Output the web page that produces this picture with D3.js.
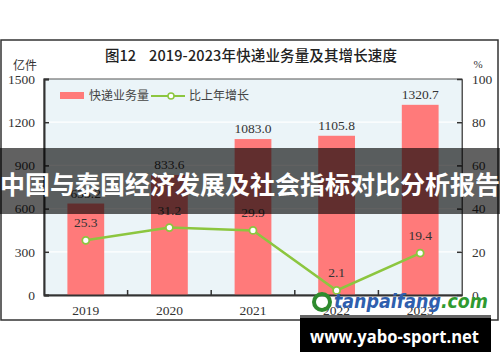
<!DOCTYPE html>
<html>
<head>
<meta charset="utf-8">
<title>快递业务量</title>
<script src="https://d3js.org/d3.v7.min.js"></script>
<style>
  body { margin: 0; background: #fff; }
  svg { display: block; }
</style>
</head>
<body>
<div id="chart"></div>
<script>
var years = ['2019', '2020', '2021', '2022', '2023'];
var volume = [635.2, 833.6, 1083.0, 1105.8, 1320.7];
var growth = [25.3, 31.2, 29.9, 2.1, 19.4];
var leftTicks = [0, 300, 600, 900, 1200, 1500];
var rightTicks = [0, 20, 40, 60, 80, 100];

var w = 500, h = 362;
var m = { left: 44, right: 462, top: 79, bottom: 295 };
var serif = "'Liberation Serif', 'DejaVu Serif', serif";
var cjk = "'Noto Sans CJK SC', sans-serif";
var red = '#ff7a7a', green = '#8cc63f';

var svg = d3.select('#chart').append('svg').attr('width', w).attr('height', h);

// outer frame
svg.append('rect').attr('x', 1).attr('y', 40).attr('width', 497).attr('height', 280)
  .attr('fill', '#fff').attr('stroke', '#333').attr('stroke-width', 1.5);

// title
svg.append('text').attr('x', 105).attr('y', 61)
  .attr('font-family', cjk).attr('font-weight', 500).attr('font-size', 14.5).attr('fill', '#222')
  .text('图12');
svg.append('text').attr('x', 149).attr('y', 61)
  .attr('font-family', cjk).attr('font-weight', 500).attr('font-size', 14.5).attr('fill', '#222')
  .attr('textLength', 248).attr('lengthAdjust', 'spacing')
  .text('2019-2023年快递业务量及其增长速度');

var x = d3.scaleBand().domain(years).range([m.left, m.right]).paddingInner(0.56).paddingOuter(0.28);
var xb = d3.scaleBand().domain(years).range([m.left, m.right]);
var yl = d3.scaleLinear().domain([0, 1500]).range([m.bottom, m.top]);
var yr = d3.scaleLinear().domain([0, 100]).range([m.bottom, m.top]);

// plot background
svg.append('rect').attr('x', m.left).attr('y', m.top)
  .attr('width', m.right - m.left).attr('height', m.bottom - m.top)
  .attr('fill', '#ebf4f8').attr('stroke', '#555').attr('stroke-width', 1);

// gridlines
svg.append('g').selectAll('line').data(leftTicks.slice(1, -1)).enter().append('line')
  .attr('x1', m.left).attr('x2', m.right)
  .attr('y1', function(d) { return yl(d); }).attr('y2', function(d) { return yl(d); })
  .attr('stroke', '#fff').attr('stroke-width', 1.2);

// bars
svg.append('g').selectAll('rect').data(volume).enter().append('rect')
  .attr('x', function(d, i) { return x(years[i]); })
  .attr('y', function(d) { return yl(d); })
  .attr('width', x.bandwidth())
  .attr('height', function(d) { return yl(0) - yl(d); })
  .attr('fill', red);

// bar labels
svg.append('g').selectAll('text').data(volume).enter().append('text')
  .attr('x', function(d, i) { return x(years[i]) + x.bandwidth() / 2; })
  .attr('y', function(d) { return yl(d) - 6; })
  .attr('text-anchor', 'middle').attr('font-family', serif).attr('font-size', 13.5).attr('fill', '#333')
  .text(function(d) { return d3.format('.1f')(d); });

// axes
var leftAxis = d3.axisLeft(yl).tickValues(leftTicks).tickFormat(d3.format('d')).tickSize(-5).tickPadding(9);
var gl = svg.append('g').attr('transform', 'translate(' + m.left + ',0)').call(leftAxis);
var rightAxis = d3.axisRight(yr).tickValues(rightTicks).tickFormat(d3.format('d')).tickSize(-5).tickPadding(10);
var gr = svg.append('g').attr('transform', 'translate(' + m.right + ',0)').call(rightAxis);
var bottomAxis = d3.axisBottom(xb).tickSize(0).tickPadding(10);
var gb = svg.append('g').attr('transform', 'translate(0,' + m.bottom + ')').call(bottomAxis);
[gl, gr, gb].forEach(function(g) {
  g.selectAll('text').attr('font-family', serif).attr('font-size', 13.5).attr('fill', '#333');
  g.selectAll('line').attr('stroke', '#333').attr('stroke-width', 1.5);
});
gl.select('.domain').attr('stroke', '#333').attr('stroke-width', 2);
gr.select('.domain').attr('stroke', '#555');
gb.select('.domain').attr('stroke', '#333').attr('stroke-width', 2);

// inner ticks on x axis at band boundaries
svg.append('g').selectAll('line').data(years.slice(1)).enter().append('line')
  .attr('x1', function(d) { return xb(d); }).attr('x2', function(d) { return xb(d); })
  .attr('y1', m.bottom).attr('y2', m.bottom - 5)
  .attr('stroke', '#333').attr('stroke-width', 1.5);

// axis units
svg.append('text').attr('x', 37).attr('y', 70).attr('text-anchor', 'end')
  .attr('font-family', cjk).attr('font-size', 12).attr('fill', '#333').text('亿件');
svg.append('text').attr('x', 478).attr('y', 68).attr('text-anchor', 'middle')
  .attr('font-family', serif).attr('font-size', 11).attr('fill', '#333').text('%');

// growth line
var line = d3.line()
  .x(function(d, i) { return xb(years[i]) + xb.bandwidth() / 2; })
  .y(function(d) { return yr(d); });
svg.append('path').datum(growth).attr('d', line)
  .attr('fill', 'none').attr('stroke', green).attr('stroke-width', 2.5);
svg.append('g').selectAll('circle').data(growth).enter().append('circle')
  .attr('cx', function(d, i) { return xb(years[i]) + xb.bandwidth() / 2; })
  .attr('cy', function(d) { return yr(d); })
  .attr('r', 3.5).attr('fill', '#fff').attr('stroke', green).attr('stroke-width', 1.8);
svg.append('g').selectAll('text').data(growth).enter().append('text')
  .attr('x', function(d, i) { return xb(years[i]) + xb.bandwidth() / 2; })
  .attr('y', function(d) { return yr(d) - 13; })
  .attr('text-anchor', 'middle').attr('font-family', serif).attr('font-size', 13.5).attr('fill', '#333')
  .text(function(d) { return d3.format('.1f')(d); });

// legend
svg.append('rect').attr('x', 60).attr('y', 92).attr('width', 24).attr('height', 7).attr('fill', red);
svg.append('text').attr('x', 89).attr('y', 100).attr('font-family', cjk).attr('font-size', 12)
  .attr('fill', '#444').text('快递业务量');
svg.append('line').attr('x1', 151).attr('x2', 185).attr('y1', 96).attr('y2', 96)
  .attr('stroke', green).attr('stroke-width', 2);
svg.append('circle').attr('cx', 171).attr('cy', 96).attr('r', 3).attr('fill', '#fff')
  .attr('stroke', green).attr('stroke-width', 1.5);
svg.append('text').attr('x', 189).attr('y', 100).attr('font-family', cjk).attr('font-size', 12)
  .attr('fill', '#444').text('比上年增长');

// banner overlay
svg.append('rect').attr('x', 0).attr('y', 148).attr('width', w).attr('height', 66)
  .attr('fill', 'rgba(0,0,0,0.62)');
svg.append('text').attr('x', w / 2).attr('y', 194).attr('text-anchor', 'middle')
  .attr('font-family', cjk).attr('font-weight', 'bold').attr('font-size', 25).attr('fill', '#fff')
  .text('中国与泰国经济发展及社会指标对比分析报告');

// watermark logo
svg.append('circle').attr('cx', 322).attr('cy', 302).attr('r', 8).attr('fill', 'none')
  .attr('stroke', '#2e8b2e').attr('stroke-width', 4);
var wm = svg.append('text').attr('x', 334).attr('y', 308)
  .attr('font-family', "'DejaVu Sans', sans-serif").attr('font-weight', 'bold').attr('font-style', 'italic')
  .attr('font-size', 19).attr('textLength', 154).attr('lengthAdjust', 'spacingAndGlyphs');
wm.append('tspan').attr('fill', '#2f5fae').text('tanpaifang');
wm.append('tspan').attr('fill', '#2f9a2f').text('.com');

// bottom black box
svg.append('rect').attr('x', 300).attr('y', 315).attr('width', 191).attr('height', 37).attr('fill', '#000');
svg.append('rect').attr('x', 300).attr('y', 315).attr('width', 191).attr('height', 3).attr('fill', '#666');
svg.append('text').attr('x', 310).attr('y', 343)
  .attr('font-family', "'Open Sans', 'DejaVu Sans', sans-serif").attr('font-weight', 'bold')
  .attr('font-size', 18).attr('fill', '#fff')
  .attr('textLength', 169).attr('lengthAdjust', 'spacingAndGlyphs')
  .text('www.yabo-sport.net');
</script>
</body>
</html>
